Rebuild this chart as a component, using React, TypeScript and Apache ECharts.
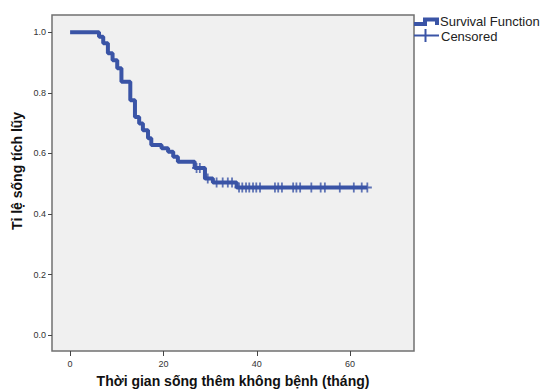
import React, { useEffect, useRef } from "react";
import * as echarts from "echarts";

// Kaplan-Meier step points: time (months) and survival after the event
const eventTimes = [0, 6.2, 7.1, 8.1, 9.1, 10.1, 11.0, 12.9, 13.9, 14.8, 15.6, 16.7, 17.4, 19.6, 21.0, 22.1, 23.1, 26.7, 28.9, 30.6, 35.7];
const survival = [1.0, 0.985, 0.964, 0.931, 0.908, 0.881, 0.837, 0.776, 0.72, 0.699, 0.677, 0.65, 0.628, 0.617, 0.606, 0.589, 0.573, 0.552, 0.517, 0.504, 0.488];
// censored observation times
const censorTimes = [27.1, 27.8, 29.5, 31.4, 32.7, 33.8, 34.7, 36.2, 36.9, 37.7, 38.4, 39.2, 39.9, 40.7, 43.9, 44.6, 45.4, 47.8, 48.5, 49.3, 51.7, 53.7, 54.6, 57.8, 60.8, 62.5, 63.7];
const xTicks = [0, 20, 40, 60];
const yTicks = [0, 0.2, 0.4, 0.6, 0.8, 1.0];
const xTitle = "Thời gian sống thêm không bệnh (tháng)";
const yTitle = "Tỉ lệ sống tích lũy";
const legendNames = ["Survival Function", "Censored"];

const BLUE = "#3a54a6";
const FONT = 'Arial, "Liberation Sans", sans-serif';

function levelAt(t: number): number {
  let s = survival[0];
  for (let i = 0; i < eventTimes.length; i++) {
    if (eventTimes[i] <= t) s = survival[i];
  }
  return s;
}

export default function App() {
  const ref = useRef<HTMLDivElement>(null);
  useEffect(() => {
    if (!ref.current) return;
    const chart = echarts.init(ref.current, undefined, { renderer: "svg" });
    const lastT = censorTimes[censorTimes.length - 1];
    const lineData: number[][] = eventTimes.map((t, i) => [t, survival[i]]);
    lineData.push([lastT, levelAt(lastT)]);
    const censorData = censorTimes.map((t) => [t, levelAt(t)]);

    chart.setOption({
      animation: false,
      backgroundColor: "#ffffff",
      grid: {
        left: 52,
        top: 15,
        right: 131,
        bottom: 38,
        show: true,
        backgroundColor: "#f0f0f0",
        borderColor: "#707070",
        borderWidth: 1.5,
      },
      xAxis: {
        type: "value",
        min: -3.88,
        max: 73.7,
        splitLine: { show: false },
        axisLine: { show: false, onZero: false },
        axisTick: { show: true, length: 5, customValues: xTicks, lineStyle: { color: "#444", width: 1 } },
        axisLabel: {
          customValues: xTicks,
          margin: 8,
          fontSize: 9,
          color: "#333",
          fontFamily: FONT,
          formatter: (v: number) => String(Math.round(v)),
        },
      },
      yAxis: {
        type: "value",
        min: -0.052,
        max: 1.057,
        splitLine: { show: false },
        axisLine: { show: false, onZero: false },
        axisTick: { show: true, length: 4, customValues: yTicks, lineStyle: { color: "#444", width: 1 } },
        axisLabel: {
          customValues: yTicks,
          margin: 6,
          fontSize: 9,
          color: "#333",
          fontFamily: FONT,
          formatter: (v: number) => v.toFixed(1),
        },
      },
      series: [
        {
          type: "line",
          name: legendNames[0],
          step: "end",
          data: lineData,
          showSymbol: false,
          symbol: "none",
          lineStyle: { color: BLUE, width: 4 },
          z: 2,
        },
        {
          type: "scatter",
          name: legendNames[1],
          data: censorData,
          symbol: "path://M4,0h2v4h4v2h-4v4h-2v-4h-4v-2h4z",
          symbolSize: [9, 10],
          itemStyle: { color: BLUE },
          z: 3,
        },
      ],
      graphic: [
        {
          type: "polyline",
          shape: { points: [[414, 24], [425, 24], [425, 19.5], [437, 19.5], [437, 25]] },
          style: { stroke: BLUE, lineWidth: 4, fill: "none" },
        },
        {
          type: "text",
          x: 440,
          y: 21.5,
          style: { text: legendNames[0], font: `13px ${FONT}`, fill: "#222", textVerticalAlign: "middle" },
        },
        {
          type: "line",
          shape: { x1: 414, y1: 35.5, x2: 439, y2: 35.5 },
          style: { stroke: BLUE, lineWidth: 2 },
        },
        {
          type: "line",
          shape: { x1: 425.5, y1: 29, x2: 425.5, y2: 42 },
          style: { stroke: BLUE, lineWidth: 2 },
        },
        {
          type: "text",
          x: 441,
          y: 36,
          style: { text: legendNames[1], font: `13px ${FONT}`, fill: "#222", textVerticalAlign: "middle" },
        },
        {
          type: "text",
          x: 233,
          y: 381,
          style: { text: xTitle, font: `bold 14px ${FONT}`, fill: "#111", textAlign: "center", textVerticalAlign: "middle" },
        },
        {
          type: "text",
          x: 17,
          y: 171,
          rotation: Math.PI / 2,
          style: { text: yTitle, font: `bold 14px ${FONT}`, fill: "#111", textAlign: "center", textVerticalAlign: "middle" },
        },
      ],
    });
    return () => chart.dispose();
  }, []);
  return (
    <div
      ref={ref}
      style={{ position: "absolute", left: 0, top: 0, width: 545, height: 389 }}
    />
  );
}
